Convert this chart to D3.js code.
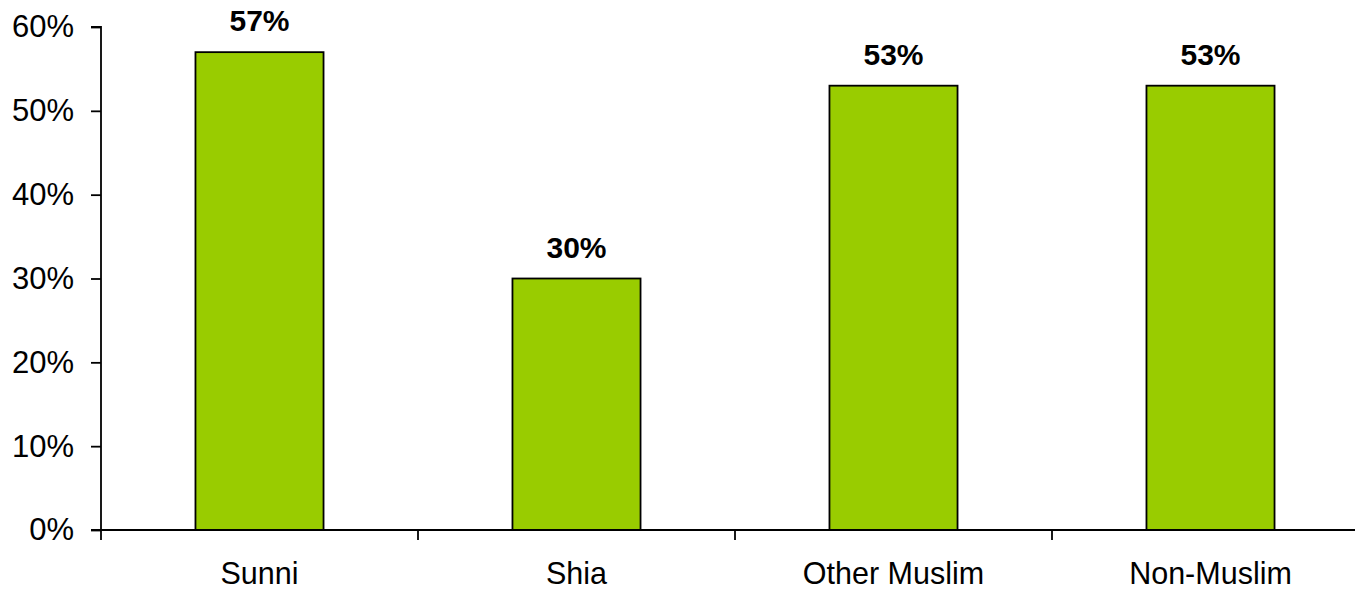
<!DOCTYPE html>
<html>
<head>
<meta charset="utf-8">
<script src="https://cdn.jsdelivr.net/npm/d3@7"></script>
<style>
  html, body { margin: 0; padding: 0; background: #fff; }
  svg { display: block; }
  text { font-family: "Liberation Sans", Arial, sans-serif; fill: #000; }
</style>
</head>
<body>
<svg id="chart" width="1355" height="591"></svg>
<script>
const categories = ["Sunni", "Shia", "Other Muslim", "Non-Muslim"];
const values = [57, 30, 53, 53];
const yTicks = [0, 10, 20, 30, 40, 50, 60];

const svg = d3.select("#chart");
const x = d3.scaleBand().domain(categories).range([101, 1369]).padding(0);
const y = d3.scaleLinear().domain([0, 60]).range([530, 27]);
const barW = x.bandwidth() * 0.404;

// bars
svg.append("g").selectAll("rect").data(values).join("rect")
  .attr("x", (d, i) => x(categories[i]) + x.bandwidth() / 2 - barW / 2)
  .attr("y", d => y(d))
  .attr("width", barW)
  .attr("height", d => y(0) - y(d))
  .attr("fill", "#99CC00")
  .attr("stroke", "#000")
  .attr("stroke-width", 1.8);

// value labels
svg.append("g").selectAll("text").data(values).join("text")
  .attr("x", (d, i) => x(categories[i]) + x.bandwidth() / 2)
  .attr("y", d => y(d) - 21)
  .attr("text-anchor", "middle")
  .attr("font-size", 30)
  .attr("font-weight", "bold")
  .text(d => d + "%");

// y axis
const yAxis = d3.axisLeft(y).tickValues(yTicks).tickFormat(d => d + "%").tickSize(10).tickPadding(17);
const gy = svg.append("g").attr("transform", "translate(101,0)").call(yAxis);
gy.select(".domain").attr("stroke", "#000").attr("stroke-width", 1.8).attr("d", `M-10,${y(60)}H0V${y(0)}H-10`);
gy.selectAll(".tick line").attr("stroke", "#000").attr("stroke-width", 1.8);
gy.selectAll(".tick text").attr("font-size", 31).attr("font-family", "Liberation Sans, Arial, sans-serif").attr("fill", "#000");

// x axis
const gx = svg.append("g").attr("transform", `translate(0,${y(0)})`);
gx.append("line").attr("x1", 101).attr("x2", 1369).attr("y1", 0).attr("y2", 0)
  .attr("stroke", "#000").attr("stroke-width", 1.8);
const bounds = categories.map(c => x(c)).concat([x.range()[1]]);
gx.selectAll("line.tk").data(bounds).join("line").attr("class", "tk")
  .attr("x1", d => d).attr("x2", d => d).attr("y1", 0).attr("y2", 10)
  .attr("stroke", "#000").attr("stroke-width", 1.8);
gx.selectAll("text").data(categories).join("text")
  .attr("x", d => x(d) + x.bandwidth() / 2)
  .attr("y", 54)
  .attr("text-anchor", "middle")
  .attr("font-size", 30.5)
  .text(d => d);
</script>
</body>
</html>
